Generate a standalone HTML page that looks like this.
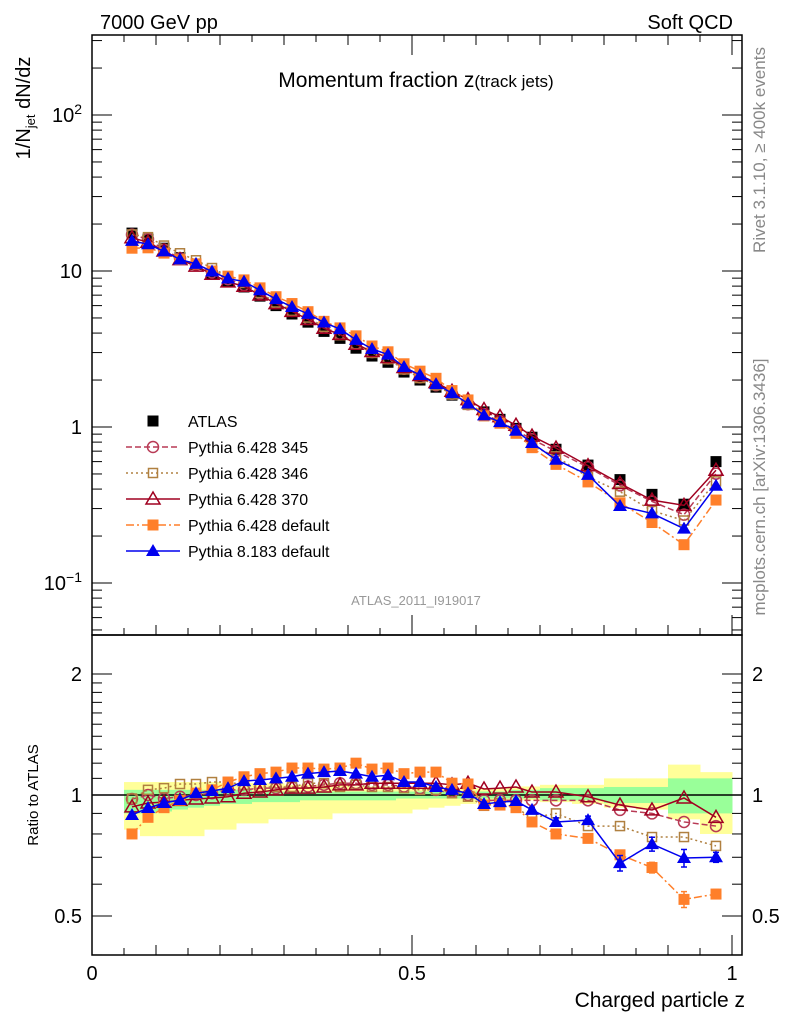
<!DOCTYPE html>
<html><head><meta charset="utf-8"><style>
body{margin:0;background:#fff}
svg{display:block;font-family:"Liberation Sans",Arial,sans-serif}
</style></head><body>
<svg id="c" width="786" height="1024" viewBox="0 0 786 1024" xmlns="http://www.w3.org/2000/svg">
<text x="100" y="29" font-size="20">7000 GeV pp</text>
<text x="733" y="29" font-size="20" text-anchor="end">Soft QCD</text>
<text x="416" y="87" font-size="21" text-anchor="middle">Momentum fraction z<tspan font-size="17">(track jets)</tspan></text>
<text transform="translate(30,108) rotate(-90)" font-size="20" text-anchor="middle">1/N<tspan font-size="13" dy="5">jet</tspan><tspan dy="-5"> dN/dz</tspan></text>
<text transform="translate(38,795) rotate(-90)" font-size="15" text-anchor="middle">Ratio to ATLAS</text>
<text x="745" y="1007" font-size="21" text-anchor="end">Charged particle z</text>
<text transform="translate(765,150) rotate(-90)" font-size="17" fill="#888" text-anchor="middle">Rivet 3.1.10, ≥ 400k events</text>
<text transform="translate(765,487) rotate(-90)" font-size="17" fill="#888" text-anchor="middle">mcplots.cern.ch [arXiv:1306.3436]</text>
<text x="416" y="605" font-size="13" fill="#999" text-anchor="middle">ATLAS_2011_I919017</text>
<g id="g"></g>
</svg>
<script>
const zc=[0.0625,0.0875,0.1125,0.1375,0.1625,0.1875,0.2125,0.2375,0.2625,0.2875,0.3125,0.3375,0.3625,0.3875,0.4125,0.4375,0.4625,0.4875,0.5125,0.5375,0.5625,0.5875,0.6125,0.6375,0.6625,0.6875,0.725,0.775,0.825,0.875,0.925,0.975];
const atlas=[17.5,16,14,12.2,11,9.7,8.6,7.9,6.9,6.0,5.3,4.7,4.1,3.7,3.2,2.85,2.6,2.25,2.0,1.8,1.6,1.4,1.25,1.12,0.98,0.86,0.72,0.57,0.46,0.37,0.32,0.6];
const r345=[0.977,1.0,0.98,0.99,1.0,1.01,1.03,1.03,1.04,1.04,1.047,1.05,1.06,1.07,1.07,1.06,1.06,1.05,1.04,1.03,1.02,1.0,0.97,0.97,0.97,0.97,0.97,0.97,0.918,0.9,0.857,0.837];
const r346=[0.98,1.03,1.04,1.065,1.065,1.077,1.077,1.06,1.047,1.047,1.047,1.07,1.07,1.047,1.06,1.047,1.047,1.04,1.03,1.03,1.01,0.99,0.94,0.955,0.93,0.877,0.9,0.837,0.837,0.786,0.786,0.747];
const r370=[0.934,0.955,0.96,0.97,0.977,0.983,0.99,1.01,1.017,1.03,1.04,1.04,1.047,1.06,1.06,1.07,1.07,1.07,1.07,1.07,1.06,1.07,1.035,1.04,1.047,1.017,1.017,0.99,0.944,0.918,0.983,0.88];
const rdef=[0.80,0.88,0.93,0.97,1.01,1.03,1.077,1.11,1.13,1.14,1.167,1.167,1.16,1.167,1.2,1.16,1.167,1.13,1.14,1.14,1.07,1.065,0.944,0.944,0.93,0.857,0.80,0.78,0.71,0.66,0.55,0.567];
const rp8=[0.892,0.928,0.955,0.972,1.01,1.023,1.04,1.083,1.09,1.10,1.11,1.13,1.14,1.147,1.13,1.11,1.12,1.077,1.077,1.047,1.03,1.01,0.95,0.96,0.966,0.918,0.857,0.866,0.677,0.755,0.697,0.70];
const binLo=[0.05,0.075,0.1,0.125,0.15,0.175,0.2,0.225,0.25,0.275,0.3,0.325,0.35,0.375,0.4,0.425,0.45,0.475,0.5,0.525,0.55,0.575,0.6,0.625,0.65,0.675,0.7,0.75,0.8,0.85,0.9,0.95];
const yelLo=[0.82,0.79,0.79,0.79,0.79,0.82,0.82,0.85,0.85,0.87,0.87,0.87,0.87,0.9,0.9,0.9,0.9,0.9,0.92,0.93,0.94,0.95,0.96,0.97,0.97,0.97,0.96,0.95,0.93,0.92,0.87,0.80];
const yelHi=[1.077,1.077,1.077,1.077,1.077,1.077,1.07,1.07,1.07,1.07,1.06,1.06,1.06,1.06,1.05,1.05,1.05,1.05,1.04,1.04,1.04,1.04,1.04,1.04,1.05,1.05,1.06,1.06,1.1,1.1,1.19,1.14];
const grnLo=[0.90,0.90,0.91,0.92,0.93,0.94,0.95,0.95,0.96,0.96,0.96,0.97,0.97,0.97,0.97,0.97,0.97,0.98,0.98,0.98,0.98,0.98,0.98,0.98,0.98,0.98,0.97,0.97,0.955,0.955,0.9,0.9];
const grnHi=[1.03,1.03,1.03,1.03,1.03,1.03,1.03,1.03,1.02,1.02,1.02,1.02,1.02,1.02,1.02,1.02,1.02,1.02,1.02,1.02,1.02,1.02,1.02,1.02,1.03,1.03,1.04,1.04,1.047,1.047,1.1,1.1];
const errP8=[0,0,0,0,0,0,0,0,0,0,0,0,0,0,0,0,0,0,0,0,0,0,0.01,0.01,0.01,0.015,0.02,0.02,0.03,0.03,0.035,0.02];
const errDef=[0,0,0,0,0,0,0,0,0,0,0,0,0,0,0,0,0,0,0,0,0,0,0.01,0.01,0.01,0.01,0.01,0.01,0.015,0.02,0.025,0.015];

const NS="http://www.w3.org/2000/svg";
const G=document.getElementById('g');
const L=92,R=742,T=35,MB=635,RB=955;
const X=z=>L+z*640;
const Y=v=>427-156*Math.log10(v);
const YR=r=>795-402*Math.log10(r);
function mk(tag,at,parent){const e=document.createElementNS(NS,tag);for(const k in at)e.setAttribute(k,at[k]);(parent||G).appendChild(e);return e;}

binLo.forEach((lo,i)=>{
  const hi=i<binLo.length-1?binLo[i+1]:1.0;
  const y=mk('rect',{x:X(lo),y:YR(yelHi[i]),width:X(hi)-X(lo)+0.5,height:YR(yelLo[i])-YR(yelHi[i]),fill:'#ffff99'});
  
  
  const g2=mk('rect',{x:X(lo),y:YR(grnHi[i]),width:X(hi)-X(lo)+0.5,height:YR(grnLo[i])-YR(grnHi[i]),fill:'#99ff99'});
  
  
});
const one=mk('line',{x1:L,x2:R,y1:YR(1),y2:YR(1),stroke:'#000','stroke-width':1.5});



const f1=mk('rect',{x:L,y:T,width:R-L,height:MB-T,fill:'none',stroke:'#000','stroke-width':1.5});


const f2=mk('rect',{x:L,y:MB,width:R-L,height:RB-MB,fill:'none',stroke:'#000','stroke-width':1.5});



for(let d=-2;d<=2;d++)for(let m=1;m<10;m++){const v=m*Math.pow(10,d);const y=Y(v);if(y<T||y>MB)continue;const len=m==1?20:10;
  mk('line',{x1:L,x2:L+len,y1:y,y2:y,stroke:'#000'});mk('line',{x1:R,x2:R-len,y1:y,y2:y,stroke:'#000'});}
const mlab=[[100,'10','2'],[10,'10',''],[1,'1',''],[0.1,'10','−1']];
mlab.forEach(a=>{const t=mk('text',{x:82,y:Y(a[0])+7,'font-size':20,'text-anchor':'end'});t.textContent=a[1];
  if(a[2]){const s=mk('tspan',{dy:-8,'font-size':14},t);s.textContent=a[2];}
  
  });
[0.4,0.5,0.6,0.7,0.8,0.9,1,1.1,1.2,1.3,1.4,1.5,1.6,1.7,1.8,1.9,2].forEach(v=>{const y=YR(v);if(y>RB||y<MB)return;const len=(v==0.5||v==1||v==2)?20:10;
  mk('line',{x1:L,x2:L+len,y1:y,y2:y,stroke:'#000'});mk('line',{x1:R,x2:R-len,y1:y,y2:y,stroke:'#000'});});
[[2,'2'],[1,'1'],[0.5,'0.5']].forEach(a=>{
  const t=mk('text',{x:82,y:YR(a[0])+7,'font-size':20,'text-anchor':'end'});t.textContent=a[1];
  
  
  const t2=mk('text',{x:752,y:YR(a[0])+7,'font-size':20});t2.textContent=a[1];
  
  });
for(let i=0;i<=20;i++){const z=i*0.05;const x=X(z);const len=i%10==0?20:(i%2==0?10:7);
  mk('line',{x1:x,x2:x,y1:RB,y2:RB-len,stroke:'#000'});mk('line',{x1:x,x2:x,y1:MB,y2:MB-len,stroke:'#000'});mk('line',{x1:x,x2:x,y1:T,y2:T+len,stroke:'#000'});}
[[0,'0'],[0.5,'0.5'],[1,'1']].forEach(a=>{const t=mk('text',{x:X(a[0]),y:980,'font-size':20,'text-anchor':'middle'});t.textContent=a[1];
  
  });

function marker(type,x,y,col,parent){
  const s=5.5;
  if(type=='sq')return mk('rect',{x:x-s,y:y-s,width:2*s,height:2*s,fill:col},parent);
  if(type=='osq')return mk('rect',{x:x-s+1,y:y-s+1,width:2*s-2,height:2*s-2,fill:'none',stroke:col,'stroke-width':1.5},parent);
  if(type=='oci')return mk('circle',{cx:x,cy:y,r:5.5,fill:'none',stroke:col,'stroke-width':1.5},parent);
  if(type=='otr')return mk('polygon',{points:`${x},${y-7} ${x-7},${y+5} ${x+7},${y+5}`,fill:'none',stroke:col,'stroke-width':1.5},parent);
  if(type=='tr')return mk('polygon',{points:`${x},${y-7} ${x-7},${y+5} ${x+7},${y+5}`,fill:col},parent);
}
const series=[
 {name:'pythia-6428-345',r:r345,col:'#b83a55',m:'oci',dash:'6,3'},
 {name:'pythia-6428-346',r:r346,col:'#b08040',m:'osq',dash:'2,3'},
 {name:'pythia-6428-370',r:r370,col:'#a00020',m:'otr',dash:''},
 {name:'pythia-6428-default',r:rdef,col:'#ff7f2a',m:'sq',dash:'8,3,2,3',err:errDef},
 {name:'pythia-8183-default',r:rp8,col:'#0000ee',m:'tr',dash:'',err:errP8},
];
const ga=mk('g',{});
zc.forEach((z,i)=>{const p=marker('sq',X(z),Y(atlas[i]),'#000',ga);
  
  });
series.forEach(s=>{
  const gm=mk('g',{});
  const gr=mk('g',{});
  const pm=zc.map((z,i)=>X(z)+','+Y(atlas[i]*s.r[i])).join(' ');
  const pr=zc.map((z,i)=>X(z)+','+YR(s.r[i])).join(' ');
  mk('polyline',{points:pm,fill:'none',stroke:s.col,'stroke-width':1.5,'stroke-dasharray':s.dash},gm);
  mk('polyline',{points:pr,fill:'none',stroke:s.col,'stroke-width':1.5,'stroke-dasharray':s.dash},gr);
  zc.forEach((z,i)=>{
    const a=marker(s.m,X(z),Y(atlas[i]*s.r[i]),s.col,gm);
    
    
    if(s.err&&s.err[i]){const x=X(z);mk('line',{x1:x,x2:x,y1:YR(s.r[i]+s.err[i]),y2:YR(s.r[i]-s.err[i]),stroke:s.col,'stroke-width':1.5},gr);
      mk('line',{x1:x-3,x2:x+3,y1:YR(s.r[i]+s.err[i]),y2:YR(s.r[i]+s.err[i]),stroke:s.col,'stroke-width':1.5},gr);
      mk('line',{x1:x-3,x2:x+3,y1:YR(s.r[i]-s.err[i]),y2:YR(s.r[i]-s.err[i]),stroke:s.col,'stroke-width':1.5},gr);}
    const b=marker(s.m,X(z),YR(s.r[i]),s.col,gr);
    
    
  });
});
const legNames=['ATLAS','Pythia 6.428 345','Pythia 6.428 346','Pythia 6.428 370','Pythia 6.428 default','Pythia 8.183 default'];
const lg=mk('g',{});
legNames.forEach((n,i)=>{const y=421+i*26;
  const e=mk('g',{},lg);
  
  
  if(i==0){marker('sq',153,y,'#000',e);}
  else{const s=series[i-1];mk('line',{x1:126,x2:180,y1:y,y2:y,stroke:s.col,'stroke-width':1.5,'stroke-dasharray':s.dash},e);marker(s.m,153,y,s.col,e);}
  const t=mk('text',{x:188,y:y+6,'font-size':16},e);t.textContent=n;});
</script>
</body></html>
